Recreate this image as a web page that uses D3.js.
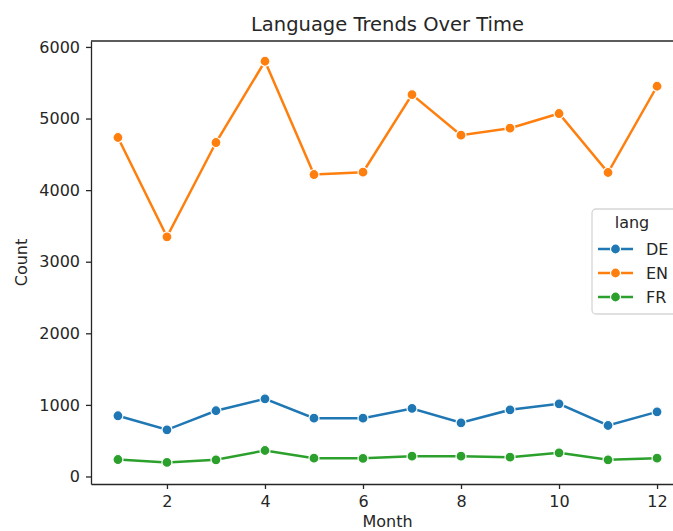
<!DOCTYPE html>
<html>
<head>
<meta charset="utf-8">
<script src="https://cdn.jsdelivr.net/npm/d3@7"></script>
<style>
  body { margin: 0; background: #fff; }
  svg text { font-family: "DejaVu Sans", sans-serif; fill: #262626; }
</style>
</head>
<body>
<div id="chart"></div>
<script>
// data
const months = [1, 2, 3, 4, 5, 6, 7, 8, 9, 10, 11, 12];
const langs = ["DE", "EN", "FR"];
const deCounts = [848, 652, 918, 1085, 815, 815, 950, 750, 931, 1015, 712, 903];
const enCounts = [4735, 3348, 4665, 5800, 4218, 4250, 5335, 4767, 4865, 5070, 4246, 5451];
const frCounts = [237, 196, 233, 363, 256, 253, 284, 284, 270, 331, 233, 256];
const xTicks = [2, 4, 6, 8, 10, 12];
const yTicks = [0, 1000, 2000, 3000, 4000, 5000, 6000];
const colors = ["#1f77b4", "#ff7f0e", "#2ca02c"];

const series = [deCounts, enCounts, frCounts].map((vals, i) => ({
    lang: langs[i],
    color: colors[i],
    points: months.map((m, j) => ({month: m, value: vals[j]}))
}));

const width = 673, height = 531;
const plotLeft = 91, plotRight = 684, plotTop = 41, plotBottom = 484;

const svg = d3.select("#chart").append("svg")
    .attr("width", width)
    .attr("height", height);

const x = d3.scaleLinear().domain([0.45, 12.55]).range([plotLeft, plotRight]);
const y = d3.scaleLinear().domain([-105, 6083]).range([plotBottom, plotTop]);

//////////////////////////////////////////////////////
// AXES
//////////////////////////////////////////////////////

const xAxis = svg.append("g")
    .attr("transform", `translate(0,${plotBottom})`)
    .call(d3.axisBottom(x).tickValues(xTicks).tickFormat(d3.format("d"))
        .tickSize(5).tickPadding(7).tickSizeOuter(0));

const yAxis = svg.append("g")
    .attr("transform", `translate(${plotLeft},0)`)
    .call(d3.axisLeft(y).tickValues(yTicks).tickFormat(d3.format("d"))
        .tickSize(5).tickPadding(6).tickSizeOuter(0));

[xAxis, yAxis].forEach(g => {
    g.selectAll("text").style("font-size", "16px").style("font-family", "DejaVu Sans");
    g.selectAll("line").attr("stroke", "#262626").attr("stroke-width", 1.3);
    g.select(".domain").attr("stroke", "#262626").attr("stroke-width", 1.3);
});

// top spine
svg.append("line")
    .attr("x1", plotLeft).attr("x2", plotRight)
    .attr("y1", plotTop).attr("y2", plotTop)
    .attr("stroke", "#262626").attr("stroke-width", 1.3);

//////////////////////////////////////////////////////
// LINES
//////////////////////////////////////////////////////

const line = d3.line().x(d => x(d.month)).y(d => y(d.value));

series.forEach(s => {
    svg.append("path")
        .datum(s.points)
        .attr("d", line)
        .attr("fill", "none")
        .attr("stroke", s.color)
        .attr("stroke-width", 2.5);

    svg.selectAll(null)
        .data(s.points)
        .enter()
        .append("circle")
        .attr("cx", d => x(d.month))
        .attr("cy", d => y(d.value))
        .attr("r", 5)
        .attr("fill", s.color)
        .attr("stroke", "#fff")
        .attr("stroke-width", 1.2);
});

//////////////////////////////////////////////////////
// LABELS
//////////////////////////////////////////////////////

svg.append("text")
    .attr("x", (plotLeft + plotRight) / 2)
    .attr("y", 31)
    .attr("text-anchor", "middle")
    .style("font-size", "19.5px")
    .text("Language Trends Over Time");

svg.append("text")
    .attr("x", (plotLeft + plotRight) / 2)
    .attr("y", 527)
    .attr("text-anchor", "middle")
    .style("font-size", "16px")
    .text("Month");

svg.append("text")
    .attr("transform", "rotate(-90)")
    .attr("x", -(plotTop + plotBottom) / 2)
    .attr("y", 27)
    .attr("text-anchor", "middle")
    .style("font-size", "16px")
    .text("Count");

//////////////////////////////////////////////////////
// LEGEND
//////////////////////////////////////////////////////

const legend = svg.append("g").attr("transform", "translate(592,209)");

legend.append("rect")
    .attr("x", 0).attr("y", 0)
    .attr("width", 110).attr("height", 105)
    .attr("rx", 4)
    .attr("fill", "#fff")
    .attr("fill-opacity", 0.8)
    .attr("stroke", "#d6d6d6")
    .attr("stroke-width", 1.3);

legend.append("text")
    .attr("x", 40).attr("y", 19)
    .attr("text-anchor", "middle")
    .style("font-size", "16px")
    .text("lang");

series.forEach((s, i) => {
    const ly = 40 + i * 24;
    legend.append("line")
        .attr("x1", 6).attr("x2", 41)
        .attr("y1", ly).attr("y2", ly)
        .attr("stroke", s.color)
        .attr("stroke-width", 2.5);
    legend.append("circle")
        .attr("cx", 23.5).attr("cy", ly).attr("r", 5)
        .attr("fill", s.color)
        .attr("stroke", "#fff").attr("stroke-width", 1.2);
    legend.append("text")
        .attr("x", 54).attr("y", ly + 6)
        .style("font-size", "16px")
        .text(s.lang);
});
</script>
</body>
</html>
